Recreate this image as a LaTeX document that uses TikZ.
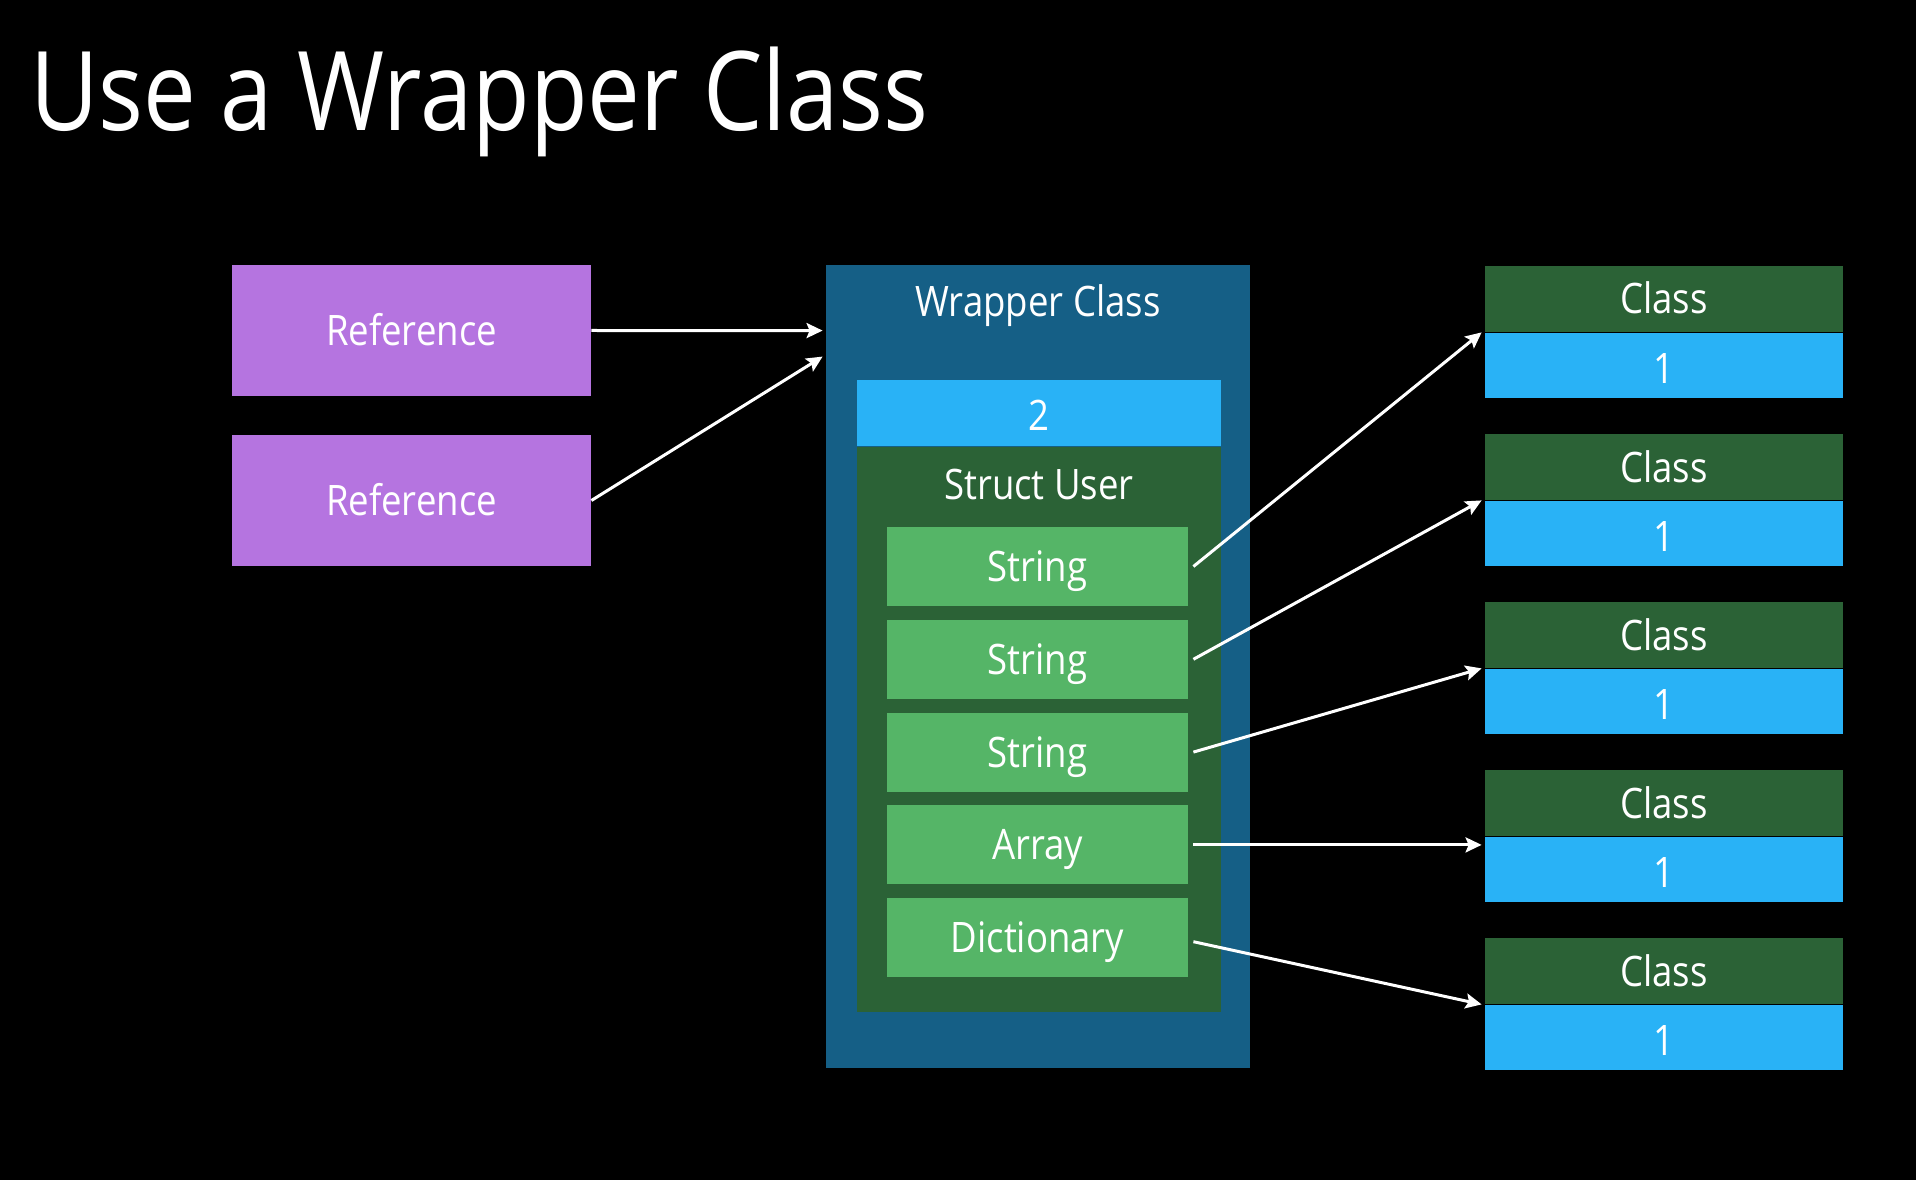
\documentclass[tikz,border=0pt]{standalone}
\usepackage{fontspec}
\setmainfont{Open Sans}[FakeStretch=0.87]
\newfontfamily\titlefont{Open Sans}[FakeStretch=0.855]
\usetikzlibrary{positioning,arrows.meta}
\definecolor{refpurple}{HTML}{B574E0}
\definecolor{countblue}{HTML}{29B2F6}
\definecolor{wrapblue}{HTML}{155F86}
\definecolor{structgreen}{HTML}{2B6236}
\definecolor{fieldgreen}{HTML}{55B567}
\tikzset{
% Boxes of the memory picture
ref node/.style={rectangle,fill=refpurple,minimum width=179.5bp,minimum height=65.5bp,inner sep=0},
count node/.style={rectangle,fill=countblue,minimum width=182bp,minimum height=33bp,inner sep=0,text height=18bp},
field node/.style={rectangle,fill=fieldgreen,minimum width=150.5bp,minimum height=39.5bp,inner sep=0},
class head/.style={rectangle,fill=structgreen,minimum width=179bp,minimum height=33bp,inner sep=0},
class count/.style={rectangle,fill=countblue,minimum width=179bp,minimum height=32.5bp,inner sep=0,text height=18bp},
white arrow/.style={draw=white,line width=1.5bp,-{Stealth[length=8bp,width=7.5bp,inset=1.5bp]}}
}

\begin{document}
\begin{tikzpicture}[x=0.5bp,y=-0.5bp,text=white,
  font=\fontsize{21bp}{25bp}\selectfont,text height=15bp,text depth=0pt]
\fill[black] (0,0) rectangle (1916,1180);
\useasboundingbox (0,0) rectangle (1916,1180);
% Title
\node(title)[anchor=base west,inner sep=0,text height=,text depth=,
  font=\titlefont\fontsize{55bp}{60bp}\selectfont] at (30,131) {Use a Wrapper Class};
% References
\node(ref1)[ref node] at (411.5,330.5) {Reference};
\node(ref2)[ref node] at (411.5,500.5) {Reference};
% The wrapper and the struct inside it
\node(wrap)[rectangle,fill=wrapblue,minimum width=212bp,minimum height=401.5bp,inner sep=0] at (1038,666.5) {};
\node(wraplabel) at (1038,302) {Wrapper Class};
\node(count)[count node] at (1039,413) {2};
\node(user)[rectangle,fill=structgreen,minimum width=182bp,minimum height=282.5bp,inner sep=0,below=0pt of count] {};
\node(userlabel) at (1039,484) {Struct User};
\node(s1)[field node] at (1037.5,566.5) {String};
\node(s2)[field node,below=6.5bp of s1] {String};
\node(s3)[field node,below=6.5bp of s2] {String};
\node(arr)[field node,below=6.5bp of s3] {Array};
\node(dict)[field node,below=6.5bp of arr] {Dictionary};
% Class instances
\node(c1)[class head] at (1664,299) {Class};
\node(n1)[class count,below=0pt of c1] {1};
\node(c2)[class head] at (1664,467) {Class};
\node(n2)[class count,below=0pt of c2] {1};
\node(c3)[class head] at (1664,635) {Class};
\node(n3)[class count,below=0pt of c3] {1};
\node(c4)[class head] at (1664,803) {Class};
\node(n4)[class count,below=0pt of c4] {1};
\node(c5)[class head] at (1664,971) {Class};
\node(n5)[class count,below=0pt of c5] {1};
% Arrows
\draw[white arrow] (ref1.east) -- ([xshift=-1.5bp,yshift=-33bp]wrap.north west);
\draw[white arrow] (ref2.east) -- ([xshift=-1.5bp,yshift=-46bp]wrap.north west);
\draw[white arrow] ([xshift=2.5bp]s1.east) -- ([xshift=-1.5bp]c1.south west);
\draw[white arrow] ([xshift=2.5bp]s2.east) -- ([xshift=-1.5bp]c2.south west);
\draw[white arrow] ([xshift=2.5bp]s3.east) -- ([xshift=-1.5bp]c3.south west);
\draw[white arrow] ([xshift=2.5bp]arr.east) -- ([xshift=-1.5bp]arr.east -| n4.west);
\draw[white arrow] ([xshift=2.5bp,yshift=-2bp]dict.east) -- ([xshift=-1.5bp]c5.south west);
\end{tikzpicture}
\end{document}
